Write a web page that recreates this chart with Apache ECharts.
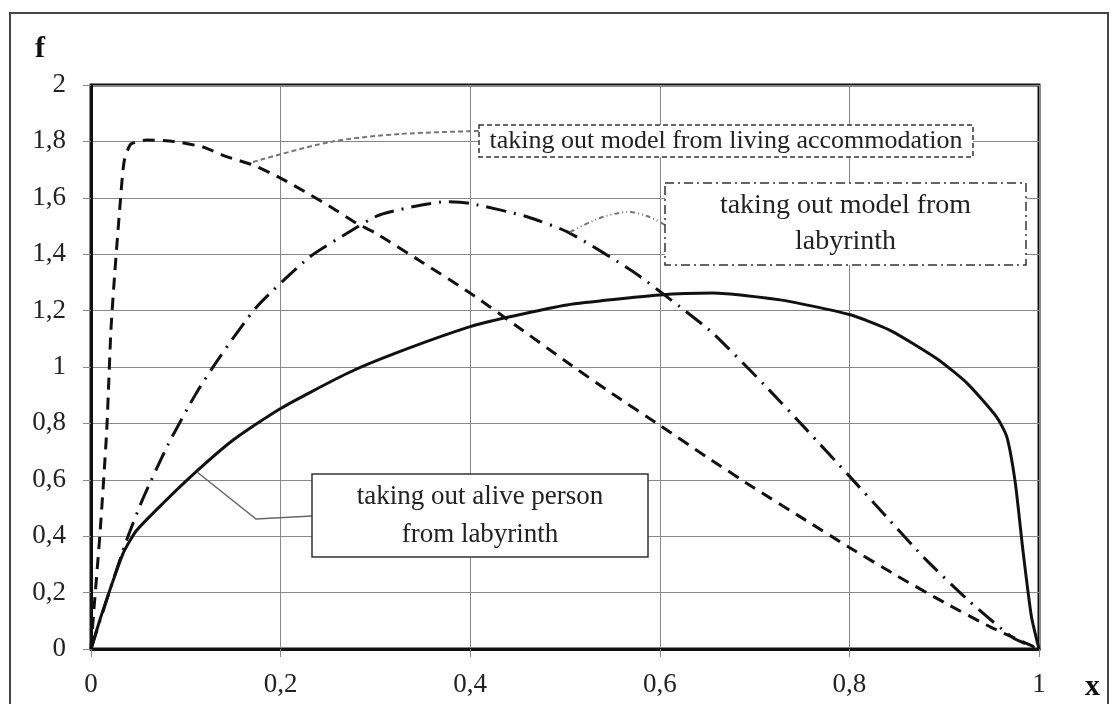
<!DOCTYPE html>
<html>
<head>
<meta charset="utf-8">
<script src="https://cdn.jsdelivr.net/npm/echarts@6/dist/echarts.min.js"></script>
<style>
  html, body { margin: 0; padding: 0; background: #fff; }
  #chart { width: 1109px; height: 704px; }
</style>
</head>
<body>
<div id="chart"></div>
<script>
// curves, [x, f]
let alivePerson = [
  [0, 0], [0.01, 0.11], [0.02, 0.21], [0.034, 0.34], [0.048, 0.42], [0.076, 0.517],
  [0.111, 0.629], [0.15, 0.741], [0.2, 0.853], [0.27, 0.977], [0.322, 1.05], [0.4, 1.143],
  [0.442, 1.178], [0.502, 1.22], [0.6, 1.255], [0.656, 1.262], [0.727, 1.238], [0.8, 1.186],
  [0.843, 1.13], [0.892, 1.03], [0.924, 0.943], [0.955, 0.824], [0.966, 0.753],
  [0.975, 0.589], [0.983, 0.351], [0.992, 0.115], [1, 0]
];
let livingModel = [
  [0, 0], [0.0025, 0.115], [0.0095, 0.41], [0.0165, 0.77], [0.021, 1.13], [0.025, 1.33],
  [0.031, 1.59], [0.035, 1.73], [0.042, 1.79], [0.059, 1.805], [0.087, 1.8], [0.118, 1.78],
  [0.143, 1.746], [0.171, 1.716], [0.2, 1.67], [0.228, 1.617], [0.255, 1.563], [0.28, 1.51],
  [0.3, 1.475], [0.35, 1.37], [0.4, 1.262], [0.45, 1.143], [0.5, 1.022], [0.55, 0.905],
  [0.6, 0.793], [0.65, 0.68], [0.7, 0.57], [0.75, 0.465], [0.8, 0.36], [0.85, 0.26],
  [0.9, 0.165], [0.95, 0.076], [1, 0]
];
let labyrinthModel = [
  [0, 0], [0.02, 0.21], [0.038, 0.39], [0.055, 0.535], [0.081, 0.723], [0.111, 0.907],
  [0.136, 1.036], [0.175, 1.214], [0.231, 1.391], [0.27, 1.474], [0.305, 1.54],
  [0.375, 1.586], [0.4, 1.58], [0.46, 1.533], [0.505, 1.475], [0.572, 1.338], [0.621, 1.214],
  [0.656, 1.12], [0.711, 0.934], [0.755, 0.777], [0.8, 0.613], [0.839, 0.469],
  [0.881, 0.316], [0.927, 0.168], [0.973, 0.039], [1, 0]
];
let xTicks = { min: 0, max: 1, step: 0.2 };
let yTicks = { min: 0, max: 2, step: 0.2 };
let boxTexts = {
  living: 'taking out model from living accommodation',
  labyrinth: 'taking out model from\nlabyrinth',
  alive: 'taking out alive person\nfrom labyrinth'
};

const serif = '"Liberation Serif", "DejaVu Serif", serif';
let dom = document.getElementById('chart');
let myChart = echarts.init(dom);

function comma(v) {
  return String(Math.round(v * 10) / 10).replace('.', ',');
}

// white annotation box with centred text, drawn above the curves
function box(x, y, w, h, text, fontSize, lineH, dash) {
  return [
    {
      type: 'rect', z: 50,
      shape: { x: x, y: y, width: w, height: h },
      style: { fill: '#fff', stroke: '#333', lineWidth: 1.5, lineDash: dash }
    },
    {
      type: 'text', z: 51,
      x: x + w / 2, y: y + h / 2,
      style: {
        text: text, font: fontSize + 'px ' + serif, fill: '#222',
        align: 'center', verticalAlign: 'middle', lineHeight: lineH
      }
    }
  ];
}

let option = {
  animation: false,
  backgroundColor: '#fff',
  grid: {
    left: 91, top: 85, right: 70, bottom: 55,
    show: true, borderColor: '#111', borderWidth: 3
  },
  xAxis: {
    type: 'value',
    min: xTicks.min, max: xTicks.max, interval: xTicks.step,
    axisLine: { show: true, lineStyle: { color: '#111', width: 3 } },
    axisTick: { show: true, inside: false, length: 8, lineStyle: { color: '#888' } },
    axisLabel: { color: '#222', fontFamily: serif, fontSize: 27, margin: 22, formatter: comma },
    splitLine: { show: true, lineStyle: { color: '#888', width: 1 } }
  },
  yAxis: {
    type: 'value',
    min: yTicks.min, max: yTicks.max, interval: yTicks.step,
    axisLine: { show: true, lineStyle: { color: '#111', width: 3 } },
    axisTick: { show: true, inside: false, length: 8, lineStyle: { color: '#888' } },
    axisLabel: { color: '#222', fontFamily: serif, fontSize: 27, margin: 25, padding: [6, 0, 0, 0], formatter: comma },
    splitLine: { show: true, lineStyle: { color: '#888', width: 1 } }
  },
  series: [
    {
      name: 'alive person', type: 'line', data: alivePerson,
      showSymbol: false, smooth: 0.2,
      lineStyle: { color: '#111', width: 3, type: 'solid' }, z: 3
    },
    {
      name: 'living accommodation', type: 'line', data: livingModel,
      showSymbol: false, smooth: 0.2,
      lineStyle: { color: '#111', width: 3, type: [12, 8] }, z: 3
    },
    {
      name: 'labyrinth model', type: 'line', data: labyrinthModel,
      showSymbol: false, smooth: 0.2,
      lineStyle: { color: '#111', width: 3, type: [20, 8, 2, 8] }, z: 3
    }
  ],
  graphic: [
    // outer frame of the picture
    {
      type: 'rect', silent: true, z: 0,
      shape: { x: 10, y: 13, width: 1098, height: 720 },
      style: { fill: 'none', stroke: '#444', lineWidth: 2 }
    },
    { type: 'text', x: 35, y: 34, style: { text: 'f', font: 'bold 30px ' + serif, fill: '#111' } },
    { type: 'text', x: 1085, y: 672, style: { text: 'x', font: 'bold 30px ' + serif, fill: '#111' } },
    // leader lines
    {
      type: 'polyline', z: 40,
      shape: { points: [[253, 162], [330, 142], [400, 134], [479, 131]], smooth: 0.3 },
      style: { stroke: '#777', lineWidth: 2, lineDash: [5, 3], fill: 'none' }
    },
    {
      type: 'polyline', z: 40,
      shape: { points: [[570, 232], [600, 218], [627, 212], [647, 216], [665, 225]], smooth: 0.3 },
      style: { stroke: '#777', lineWidth: 2, lineDash: [5, 3, 1, 3, 1, 3], fill: 'none' }
    },
    {
      type: 'polyline', z: 40,
      shape: { points: [[197, 472], [256, 519], [312, 516]] },
      style: { stroke: '#666', lineWidth: 1.5, fill: 'none' }
    }
  ]
    .concat(box(479, 125, 494, 32, boxTexts.living, 26, 30, [5, 3]))
    .concat(box(665, 183, 361, 82, boxTexts.labyrinth, 28, 36, [9, 4, 2, 4]))
    .concat(box(312, 474, 336, 83, boxTexts.alive, 27, 38, null))
};

myChart.setOption(option);
</script>
</body>
</html>
